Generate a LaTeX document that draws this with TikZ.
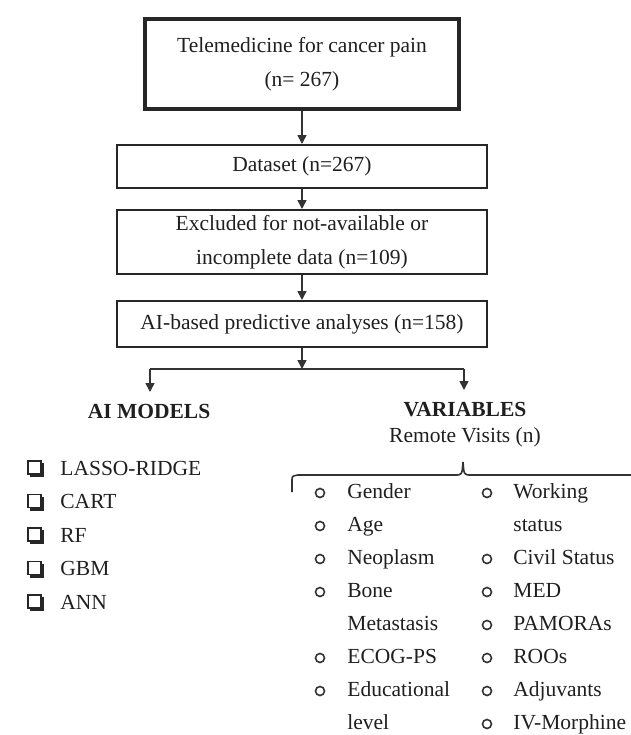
\documentclass[tikz,border=0pt]{standalone}
\usepackage{fontspec}
\setmainfont{Liberation Serif}
\usetikzlibrary{arrows.meta}
\newcommand\diagfont{\fontsize{10.75}{16.75}\selectfont}
\begin{document}
\begin{tikzpicture}[x=0.5pt,y=-0.5pt,
  box/.style={draw=black!85, line width=1pt, inner sep=0pt, align=center, font=\diagfont, text=black!88},
  conn/.style={draw=black!80, line width=0.8pt, -{Triangle[length=4.5pt,width=4.5pt]}},
  plain/.style={draw=black!80, line width=0.8pt},
  head/.style={font=\diagfont\bfseries, text=black!88, inner sep=0pt},
  txt/.style={font=\diagfont, text=black!88, inner sep=0pt},
  item/.style={font=\diagfont, text=black!88, inner sep=0pt, anchor=base west},
  bul/.style={draw=black!80, line width=0.8pt},
  chk/.style={fill=white, draw=black!85, line width=0.7pt},
  chks/.style={fill=black!85}
]
\useasboundingbox (0,0) rectangle (631,735);

% flow boxes
\node[box, line width=2pt, minimum width=157pt, minimum height=45pt] (tele) at (302,64) {Telemedicine for cancer pain\\(n= 267)};
\node[box, minimum width=185pt, minimum height=21.5pt] (data) at (302,166.5) {Dataset (n=267)};
\node[box, minimum width=185pt, minimum height=32pt] (excl) at (302,242) {Excluded for not-available or\\incomplete data (n=109)};
\node[box, minimum width=185pt, minimum height=23pt] (ai) at (302,324) {AI-based predictive analyses (n=158)};

\draw[conn] (tele) -- (data);
\draw[conn] (data) -- (excl);
\draw[conn] (excl) -- (ai);

% split
\coordinate (split) at (302,369);
\coordinate (sl) at (150,369);
\coordinate (sr) at (464,369);
\coordinate (tl) at (150,392);
\coordinate (tr) at (464,390);
\draw[conn] (ai) -- (split);
\draw[plain] (sl) -- (sr);
\draw[conn] (sl) -- (tl);
\draw[conn] (sr) -- (tr);

\node[head] (models) at (149,411) {AI MODELS};
\node[head] (vars) at (465,410) {VARIABLES};
\node[txt] (visits) at (465,437) {Remote Visits (n)};

% brace
\coordinate (bend) at (631,475);
\draw[plain] (292,492) -- (292,481) .. controls (292,476) .. (298,475) -- (455,475) .. controls (462,475) .. (463,462) .. controls (464,475) .. (471,475) -- (bend);

% AI models list
\foreach \t [count=\i from 0] in {LASSO-RIDGE,CART,RF,GBM,ANN} {
  \pgfmathsetmacro\yy{468+33.5*\i}
  \fill[chks] (30,\yy-5) rectangle (44,\yy+9);
  \filldraw[chk] (28,\yy-7) rectangle (41,\yy+6);
  \node[item] (m\i) at (60,\yy+7) {\t};
}

% variables, left column
\foreach \t/\b [count=\i from 0] in {Gender/1,Age/1,Neoplasm/1,Bone/1,Metastasis/0,ECOG-PS/1,Educational/1,level/0} {
  \pgfmathsetmacro\yy{491+33*\i}
  \ifnum\b=1 \draw[bul] (320,\yy+2) circle (4.5); \fi
  \node[item] (vl\i) at (347,\yy+7) {\t};
}

% variables, right column
\foreach \t/\b [count=\i from 0] in {Working/1,status/0,Civil Status/1,MED/1,PAMORAs/1,ROOs/1,Adjuvants/1,IV-Morphine/1} {
  \pgfmathsetmacro\yy{491+33*\i}
  \ifnum\b=1 \draw[bul] (487,\yy+2) circle (4.5); \fi
  \node[item] (vr\i) at (513,\yy+7) {\t};
}
\end{tikzpicture}
\end{document}
